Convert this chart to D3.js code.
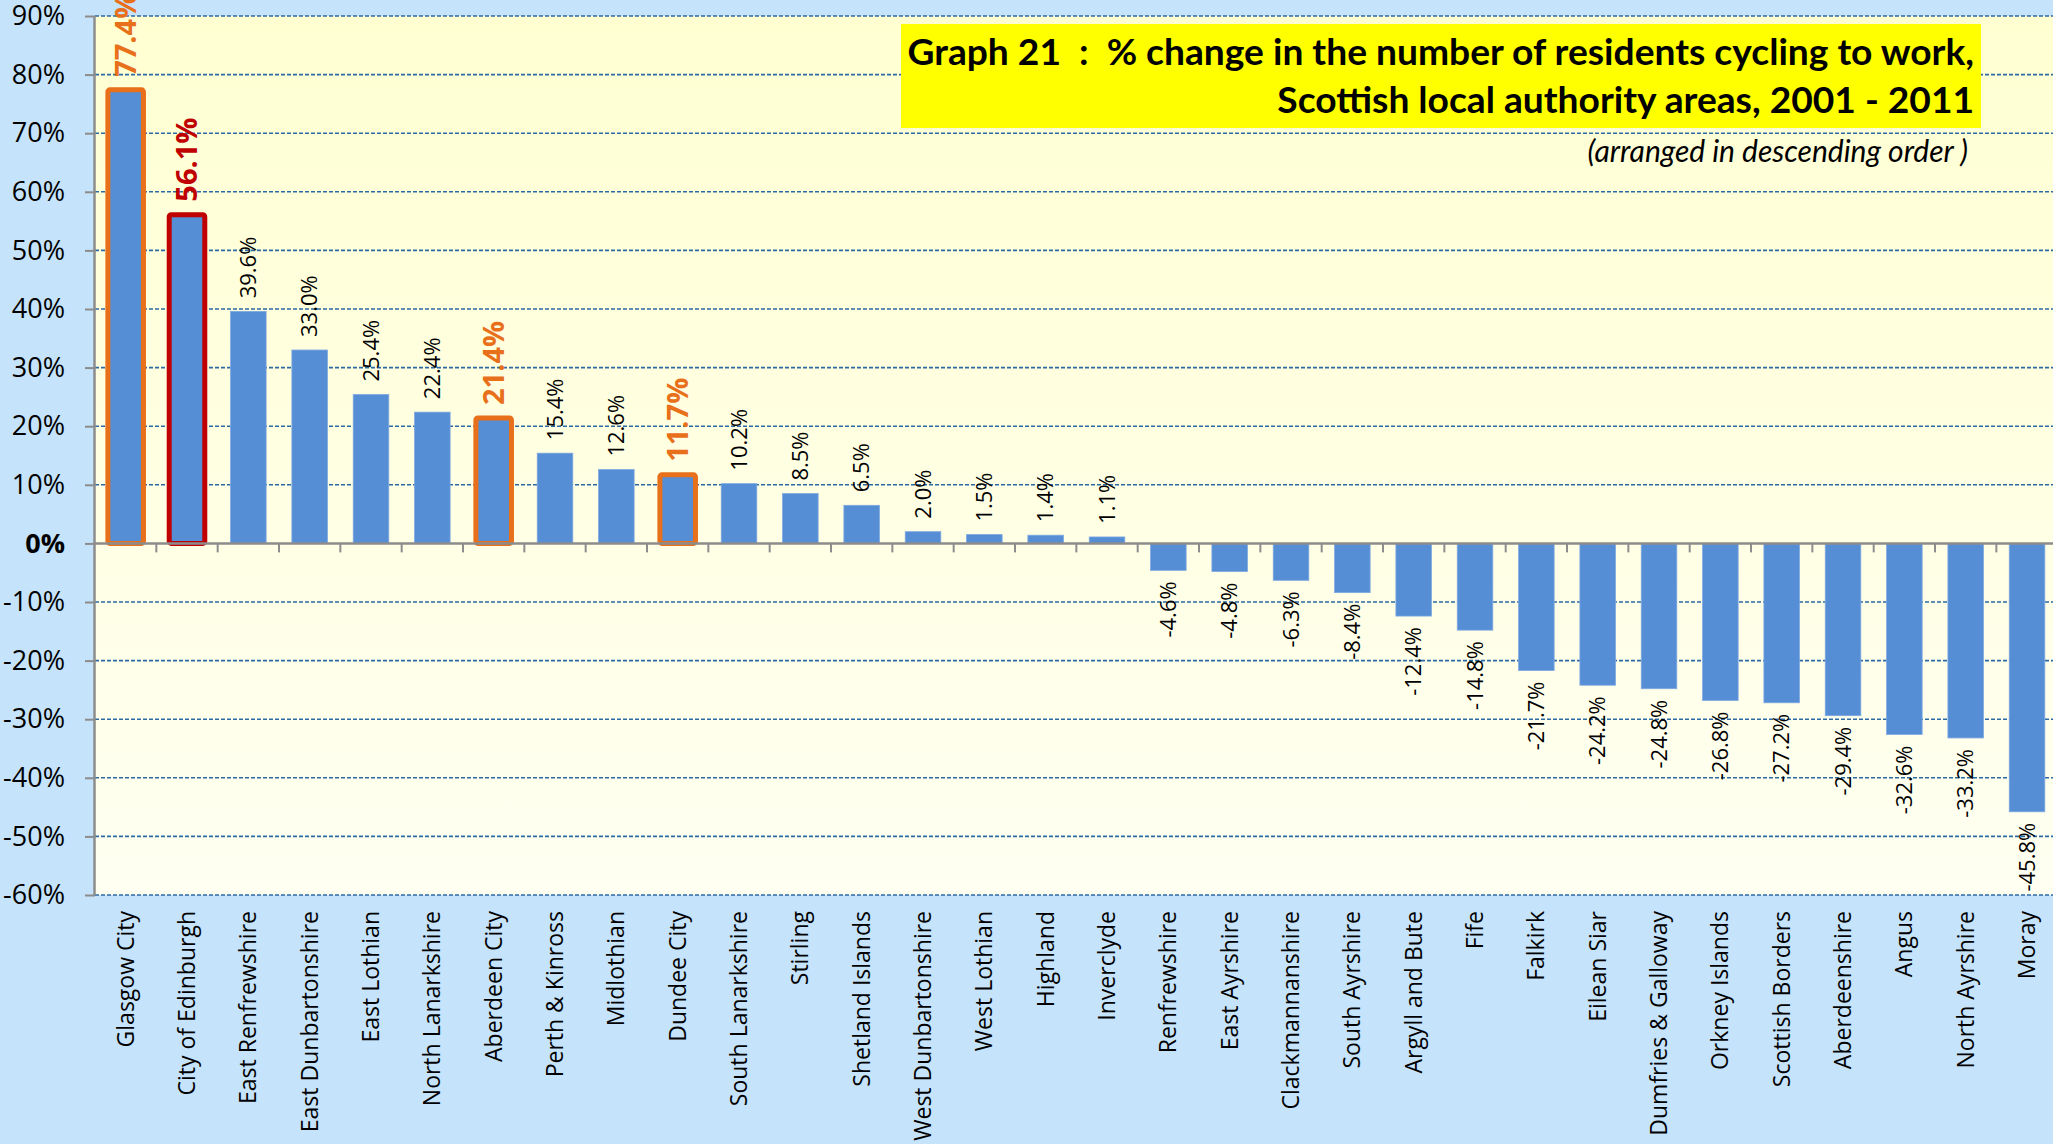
<!DOCTYPE html>
<html><head><meta charset="utf-8">
<script src="https://cdn.jsdelivr.net/npm/d3@7"></script>
<style>html,body{margin:0;padding:0;background:#C5E3FA;overflow:hidden}</style>
</head><body><svg id="c" width="2053" height="1144"></svg>
<script>
const categories = ["Glasgow City","City of Edinburgh","East Renfrewshire","East Dunbartonshire","East Lothian","North Lanarkshire","Aberdeen City","Perth & Kinross","Midlothian","Dundee City","South Lanarkshire","Stirling","Shetland Islands","West Dunbartonshire","West Lothian","Highland","Inverclyde","Renfrewshire","East Ayrshire","Clackmannanshire","South Ayrshire","Argyll and Bute","Fife","Falkirk","Eilean Siar","Dumfries & Galloway","Orkney Islands","Scottish Borders","Aberdeenshire","Angus","North Ayrshire","Moray"];
const values = [77.4,56.1,39.6,33.0,25.4,22.4,21.4,15.4,12.6,11.7,10.2,8.5,6.5,2.0,1.5,1.4,1.1,-4.6,-4.8,-6.3,-8.4,-12.4,-14.8,-21.7,-24.2,-24.8,-26.8,-27.2,-29.4,-32.6,-33.2,-45.8];
const highlightOrange = ["Glasgow City","Aberdeen City","Dundee City"];
const highlightRed = ["City of Edinburgh"];
const yTicks = [90,80,70,60,50,40,30,20,10,0,-10,-20,-30,-40,-50,-60];
const titleLines = ["Graph 21  :  % change in the number of residents cycling to work,","Scottish local authority areas, 2001 - 2011"];
const subtitle = "(arranged in descending order )";

(function(){
const svg = d3.select("#c");
const W = 2053, H = 1144;
const pL = 95, pR = 2057.7, pT = 16, pB = 895;

const x = d3.scaleBand().domain(categories).range([pL, pR]).paddingInner(0.42).paddingOuter(0.21);
const y = d3.scaleLinear().domain([-60, 90]).range([pB, pT]);

const defs = svg.append("defs");
const g = defs.append("linearGradient").attr("id","bg").attr("x1",0).attr("y1",0).attr("x2",0).attr("y2",1);
g.append("stop").attr("offset","0%").attr("stop-color","#FFFFD2");
g.append("stop").attr("offset","100%").attr("stop-color","#FFFFF2");

svg.append("rect").attr("width",W).attr("height",H).attr("fill","#C5E3FA");
svg.append("rect").attr("x",pL).attr("y",pT).attr("width",W-pL).attr("height",pB-pT).attr("fill","url(#bg)");

svg.append("g").selectAll("line").data(yTicks.filter(d=>d!==0)).join("line")
  .attr("x1",pL).attr("x2",W).attr("y1",d=>y(d)).attr("y2",d=>y(d))
  .attr("stroke","#2C6AA3").attr("stroke-width",1.6).attr("stroke-dasharray","4,2");

const yAxis = d3.axisLeft(y).tickValues(yTicks).tickFormat(d=>d+"%").tickSize(10).tickPadding(20);
const ya = svg.append("g").attr("transform",`translate(${pL},0)`).call(yAxis);
ya.select(".domain").attr("stroke","#8C8C8C").attr("stroke-width",2.5).attr("d",`M-0.5,${pT}V${pB}`);
ya.selectAll(".tick line").attr("stroke","#8C8C8C").attr("stroke-width",2);
ya.selectAll(".tick text").attr("font-family","'Open Sans'").attr("font-size",27).attr("fill","#000")
  .attr("font-weight",d=>d===0?"bold":"normal");

const hl = c => highlightOrange.includes(c) ? "#E8701A" : highlightRed.includes(c) ? "#C00000" : null;
svg.append("g").selectAll("rect").data(categories).join("rect")
  .attr("x",(c)=>x(c)).attr("width",x.bandwidth())
  .attr("y",(c,i)=>y(Math.max(0,values[i])))
  .attr("height",(c,i)=>Math.abs(y(values[i])-y(0)))
  .attr("fill","#558ED5")
  .attr("stroke",c=>hl(c)||"#7EA8E0")
  .attr("stroke-width",c=>hl(c)?5:0.8)
  .attr("rx",c=>hl(c)?2:0);

const xa = svg.append("g").attr("transform",`translate(0,${y(0)})`);
xa.append("line").attr("x1",pL).attr("x2",W).attr("y1",0).attr("y2",0).attr("stroke","#8C8C8C").attr("stroke-width",2.5);
const step = x.step();
xa.selectAll("line.tk").data(d3.range(1,32)).join("line").attr("class","tk")
  .attr("x1",i=>pL+i*step).attr("x2",i=>pL+i*step).attr("y1",0).attr("y2",9)
  .attr("stroke","#8C8C8C").attr("stroke-width",2);

svg.append("g").selectAll("text").data(categories).join("text")
  .attr("transform",c=>`translate(${x(c)+x.bandwidth()/2},911) rotate(-90)`)
  .attr("text-anchor","end").attr("dy","0.35em")
  .attr("font-family","'Open Sans'").attr("font-size",23).attr("fill","#000")
  .text(c=>c);

svg.append("g").selectAll("text").data(categories).join("text")
  .attr("transform",(c,i)=>{
    const v = values[i];
    const yy = v>=0 ? y(v)-13 : y(v)+11;
    return `translate(${x(c)+x.bandwidth()/2},${yy}) rotate(-90)`;
  })
  .attr("text-anchor",(c,i)=>values[i]>=0?"start":"end").attr("dy","0.35em")
  .attr("font-family","'Open Sans'")
  .attr("font-size",c=>hl(c)?29:22)
  .attr("font-weight",c=>hl(c)?"bold":"normal")
  .attr("fill",c=>hl(c)||"#000")
  .text((c,i)=>values[i].toFixed(1)+"%");

svg.append("rect").attr("x",901).attr("y",24).attr("width",1080).attr("height",104).attr("fill","#FFFF00");
const tl = svg.append("g").selectAll("text").data(titleLines).join("text")
  .attr("x",1974).attr("y",(d,i)=>[65,113][i]).attr("text-anchor","end")
  .attr("xml:space","preserve").style("white-space","pre")
  .attr("font-family","Lato").attr("font-weight","bold").attr("font-size",31).attr("fill","#000")
  .text(d=>d);
const w0 = tl.nodes()[0].getComputedTextLength();
tl.attr("font-size", 31*1067/w0);
svg.append("text").attr("x",1968).attr("y",162).attr("text-anchor","end")
  .attr("font-family","Lato").attr("font-style","italic").attr("font-size",30).attr("fill","#000")
  .text(subtitle);
})();
</script></body></html>
